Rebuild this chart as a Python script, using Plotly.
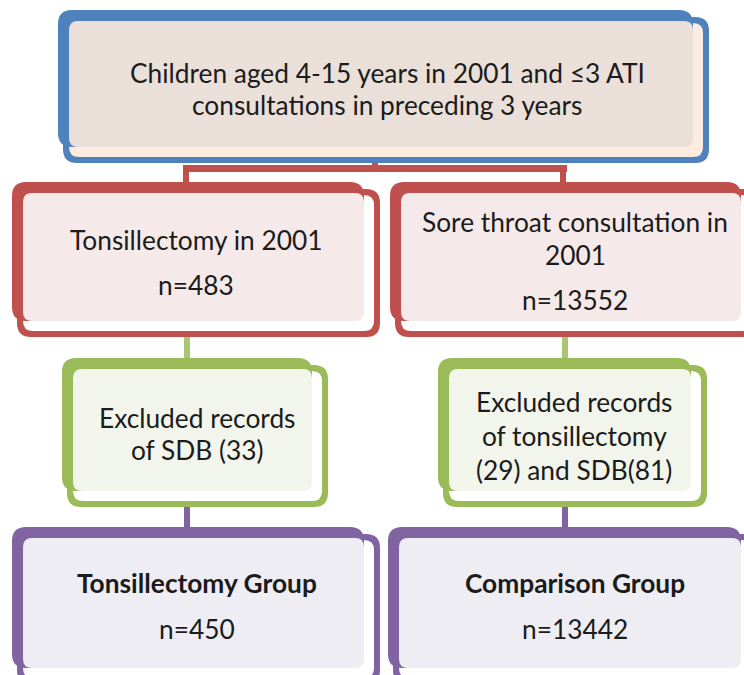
import plotly.graph_objects as go

# ---- data (text content of the flowchart) ----
cohort_lines = ["Children aged 4-15 years in 2001 and ≤3 ATI",
                "consultations in preceding 3 years"]
group_titles = ["Tonsillectomy in 2001", "Sore throat consultation in 2001"]
group_n = [483, 13552]
excluded_sdb = [33, 81]
excluded_tonsillectomy = 29
final_titles = ["Tonsillectomy Group", "Comparison Group"]
final_n = [450, 13442]

# ---- styling ----
W, H = 744, 675
FONT = "Lato"
FS = 26.3
TXT = "#1b1b1b"
BLUE, BLUE_FILL, BLUE_STRIP = "#4F81BD", "#EADFD9", "#FCEBE0"
RED, RED_FILL = "#C0504D", "#F5E9E9"
GREEN, GREEN_FILL = "#9BBB59", "#F2F5EC"
PURPLE, PURPLE_FILL = "#8064A2", "#EFEDF4"


def rrect(x0, y0, x1, y1, r):
    return (f"M {x0+r},{y0} L {x1-r},{y0} Q {x1},{y0} {x1},{y0+r} "
            f"L {x1},{y1-r} Q {x1},{y1} {x1-r},{y1} L {x0+r},{y1} "
            f"Q {x0},{y1} {x0},{y1-r} L {x0},{y0+r} Q {x0},{y0} {x0+r},{y0} Z")


shapes = []


def path(p, fill):
    shapes.append(dict(type="path", path=p, xref="x", yref="y",
                       fillcolor=fill, line=dict(width=0), layer="below"))


def box(x0, y0, x1, y1, col, fill, strip="#FFFFFF"):
    # outline frame (offset down-right)
    path(rrect(x0 + 5, y0 + 7, x1, y1, 14), col)
    path(rrect(x0 + 11, y0 + 13, x1 - 6, y1 - 6, 10), strip)
    # thick frame (offset up-left)
    path(rrect(x0, y0, x1 - 16, y1 - 16, 14), col)
    path(rrect(x0 + 11, y0 + 11, x1 - 16, y1 - 16, 9), fill)


def seg(xa, ya, xb, yb, col, w=6):
    shapes.append(dict(type="line", x0=xa, y0=ya, x1=xb, y1=yb, xref="x", yref="y",
                       line=dict(color=col, width=w), layer="below"))


# connectors
seg(375, 158, 375, 169, RED)
seg(183, 168.5, 567, 168.5, RED, 7)
seg(186, 166, 186, 186, RED)
seg(563, 166, 563, 186, RED)
seg(187, 330, 187, 360, "#A9C771")
seg(565, 330, 565, 360, "#A9C771")
seg(187, 495, 187, 530, PURPLE)
seg(565, 495, 565, 530, PURPLE)

# boxes
box(58, 10, 709, 163, BLUE, BLUE_FILL, BLUE_STRIP)
box(12, 182, 380, 337, RED, RED_FILL)
box(390, 182, 757, 337, RED, RED_FILL)
box(62, 358, 328, 507, GREEN, GREEN_FILL)
box(438, 358, 707, 507, GREEN, GREEN_FILL)
box(12, 527, 380, 684, PURPLE, PURPLE_FILL)
box(388, 527, 757, 684, PURPLE, PURPLE_FILL)

annotations = []


def txt(x, y, s, bold=False, size=FS):
    if bold:
        s = f"<b>{s}</b>"
    annotations.append(dict(x=x, y=y, xref="x", yref="y", text=s, showarrow=False,
                            xanchor="center", yanchor="middle",
                            font=dict(family=FONT, size=size, color=TXT)))


# top box
txt(387, 73, cohort_lines[0])
txt(387, 105, cohort_lines[1])
# second row
txt(196, 240, group_titles[0])
txt(196, 285, f"n={group_n[0]}")
sore_words = group_titles[1].rsplit(" ", 1)
txt(575, 222, sore_words[0])
txt(575, 255, sore_words[1])
txt(575, 300, f"n={group_n[1]}")
# exclusions
txt(197, 418, "Excluded records")
txt(197, 450, f"of SDB ({excluded_sdb[0]})")
txt(574, 402, "Excluded records")
txt(574, 436, "of tonsillectomy")
txt(574, 470, f"({excluded_tonsillectomy}) and SDB({excluded_sdb[1]})")
# final groups
txt(197, 583, final_titles[0], bold=True)
txt(197, 629, f"n={final_n[0]}")
txt(575, 583, final_titles[1], bold=True)
txt(575, 629, f"n={final_n[1]}")

fig = go.Figure()
fig.update_layout(
    width=W, height=H,
    margin=dict(l=0, r=0, t=0, b=0),
    paper_bgcolor="white", plot_bgcolor="white",
    xaxis=dict(range=[0, W], visible=False, fixedrange=True),
    yaxis=dict(range=[H, 0], visible=False, fixedrange=True),
    shapes=shapes, annotations=annotations, showlegend=False,
)
fig.write_html("out.html", config={"displayModeBar": False},
               post_script="document.body.style.margin='0';document.body.style.overflow='hidden';")
